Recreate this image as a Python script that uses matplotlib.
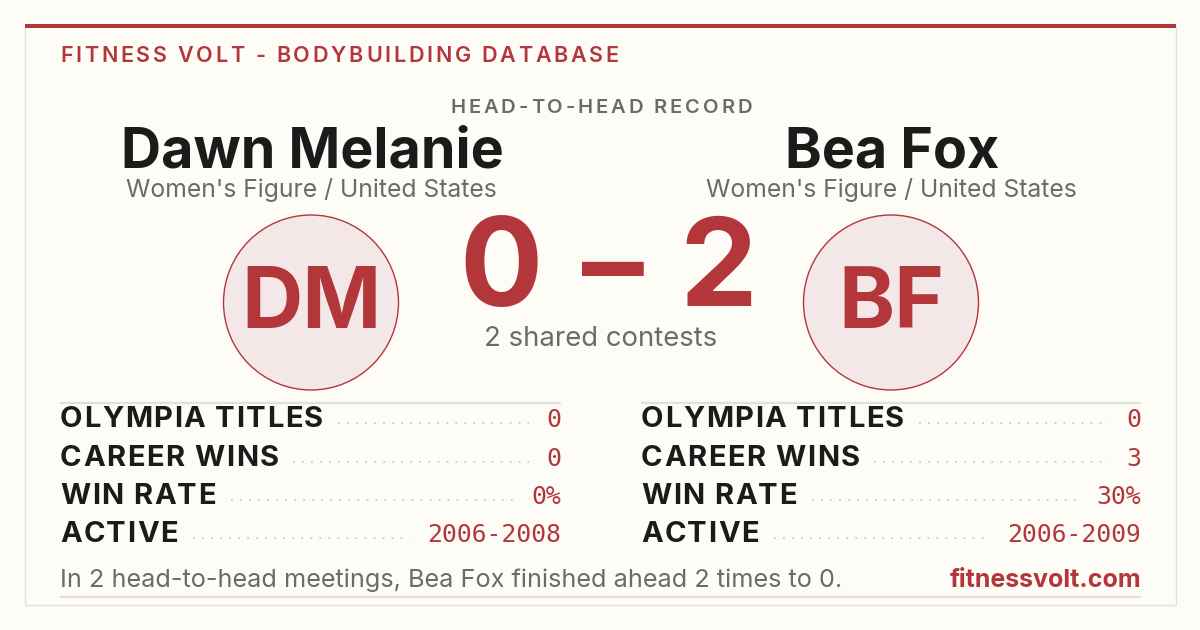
import numpy as np
import matplotlib
matplotlib.use("Agg")
import matplotlib.pyplot as plt
from matplotlib.patches import Circle, Rectangle
from matplotlib.font_manager import FontProperties

# Daten
athletes = ["Dawn Melanie", "Bea Fox"]
initials = ["DM", "BF"]
divisions = ["Women's Figure / United States", "Women's Figure / United States"]
h2h_wins = [0, 2]
shared_contests = 2
stat_labels = ["OLYMPIA TITLES", "CAREER WINS", "WIN RATE", "ACTIVE"]
left_values = ["0", "0", "0%", "2006-2008"]
right_values = ["0", "3", "30%", "2006-2009"]

RED = "#b3373a"
INK = "#1b1b1b"
GRAY = "#6c6b66"
BG = "#fdfcf7"
LINE = "#e4e0d8"
DOTS = "#cfcac2"
SANS = "Inter"
MONO = "DejaVu Sans Mono"

fig = plt.figure(figsize=(12, 6.3), dpi=100, facecolor=BG)
ax = fig.add_axes([0, 0, 1, 1])
ax.set_xlim(0, 1200)
ax.set_ylim(630, 0)
ax.axis("off")
renderer = fig.canvas.get_renderer()


def text_width(s, size, weight="normal", family=SANS):
    fp = FontProperties(family=family, size=size, weight=weight)
    w, _, _ = renderer.get_text_width_height_descent(s, fp, ismath=False)
    return w


def tracked(x, y, s, spacing, size, weight="normal", color=INK, ha="left"):
    # Text mit Buchstabenabstand zeichnen, Zeichen fuer Zeichen
    adv = [text_width("|" + ch + "|", size, weight) - text_width("||", size, weight) for ch in s]
    total = sum(adv) + spacing * (len(s) - 1)
    if ha == "center":
        x = x - total / 2
    for ch, a in zip(s, adv):
        ax.text(x, y, ch, fontsize=size, fontweight=weight, family=SANS,
                color=color, va="baseline", ha="left")
        x += a + spacing
    return x - spacing


# Karte
ax.add_patch(Rectangle((25, 26), 1151, 579, facecolor=BG, edgecolor=LINE, lw=1))
ax.add_patch(Rectangle((25, 24), 1151, 4, facecolor=RED, edgecolor="none"))

tracked(60, 62, "FITNESS VOLT - BODYBUILDING DATABASE", 2.75, 15.5, "semibold", RED)
tracked(601, 113, "HEAD-TO-HEAD RECORD", 2.9, 14.5, "semibold", GRAY, ha="center")

centers = [311, 891]
for cx, name, div, ini in zip(centers, athletes, divisions, initials):
    ax.text(cx + 1, 168, name, fontsize=40, fontweight="bold", family=SANS,
            color=INK, ha="center", va="baseline")
    ax.text(cx, 197, div, fontsize=17.8, family=SANS, color=GRAY,
            ha="center", va="baseline")
    ax.add_patch(Circle((cx, 302.5), 87.5, facecolor="#f4e7e7", edgecolor=RED, lw=1))
    ax.text(cx, 328, ini, fontsize=61, fontweight="bold", family=SANS,
            color=RED, ha="center", va="baseline")

# Ergebnis: Ziffern und Strich einzeln gesetzt
score_parts = [str(h2h_wins[0]), "\u2013", str(h2h_wins[1])]
for xc, part in zip([501, 613, 718], score_parts):
    ax.text(xc, 306, part, fontsize=89, fontweight="bold", family=SANS,
            color=RED, ha="center", va="baseline")
ax.text(601, 346, f"{shared_contests} shared contests", fontsize=19.8, family=SANS,
        color=GRAY, ha="center", va="baseline")

# Statistik-Tabellen
baselines = [427, 465.5, 504, 542]
for x0, x1, values in [(60, 561, left_values), (641, 1141, right_values)]:
    ax.plot([x0, x1], [403, 403], color=LINE, lw=1.6, solid_capstyle="butt")
    for yb, lab, val in zip(baselines, stat_labels, values):
        end = tracked(x0, yb, lab, 1.5, 21, "bold", INK)
        ax.text(x1, yb, val, fontsize=17.8, family=MONO, color=RED,
                ha="right", va="baseline")
        vw = text_width(val, 17.8, family=MONO)
        ax.plot([end + 15, x1 - vw - 17], [yb - 4, yb - 4], color=DOTS, lw=1.3,
                ls=(0, (1, 4)))

ax.text(60, 587, f"In {shared_contests} head-to-head meetings, {athletes[1]} finished ahead "
        f"{h2h_wins[1]} times to {h2h_wins[0]}.", fontsize=18.2, family=SANS, color=GRAY,
        ha="left", va="baseline")
ax.text(1141, 587, "fitnessvolt.com", fontsize=18, fontweight="bold", family=SANS,
        color=RED, ha="right", va="baseline")
ax.plot([60, 1141], [597, 597], color=LINE, lw=1.6, solid_capstyle="butt")

fig.savefig("out.png", dpi=100, facecolor=BG)
